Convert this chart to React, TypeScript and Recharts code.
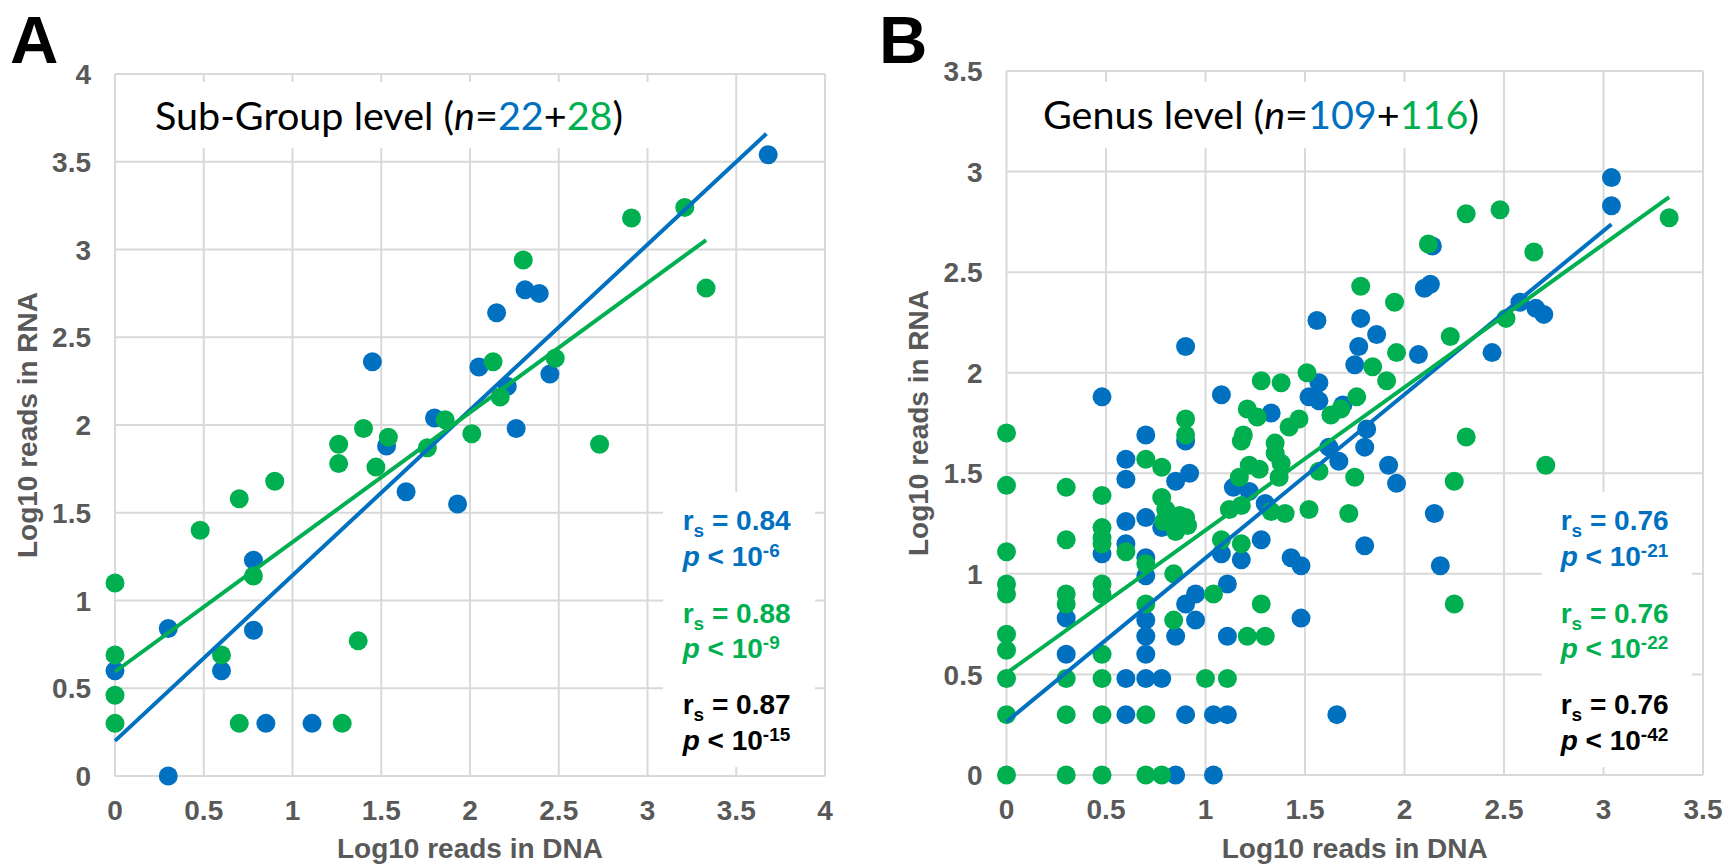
import React from 'react';
import { ScatterChart, Scatter, XAxis, YAxis, CartesianGrid } from 'recharts';

const BLUE = '#0070C0';
const GREEN = '#00B050';
const GRID = '#D9D9D9';
const AXIS_TEXT = '#595959';
const NUM_FONT = '"Liberation Sans", Arial, sans-serif';
const TITLE_FONT = 'Lato, "Open Sans", sans-serif';

// Tick values
const ticksA = [0, 0.5, 1, 1.5, 2, 2.5, 3, 3.5, 4];
const ticksB = [0, 0.5, 1, 1.5, 2, 2.5, 3, 3.5];

// Panel A: Sub-Group level, [log10 DNA reads, log10 RNA reads]
const subGroupBlue: [number, number][] = [
  [0, 0.6], [0.3, 0.84], [0.3, 0], [0.6, 0.6], [0.78, 1.23], [0.78, 0.83], [0.85, 0.3],
  [1.11, 0.3], [1.45, 2.36], [1.53, 1.88], [1.64, 1.62], [1.8, 2.04], [1.93, 1.55],
  [2.05, 2.33], [2.15, 2.64], [2.21, 2.22], [2.26, 1.98], [2.31, 2.77], [2.39, 2.75],
  [2.45, 2.29], [3.68, 3.54],
];
const subGroupGreen: [number, number][] = [
  [0, 1.1], [0, 0.69], [0, 0.46], [0, 0.3], [0.48, 1.4], [0.7, 1.58], [0.9, 1.68],
  [0.78, 1.14], [0.6, 0.69], [0.7, 0.3], [1.28, 0.3], [1.37, 0.77], [1.26, 1.89],
  [1.26, 1.78], [1.4, 1.98], [1.54, 1.93], [1.47, 1.76], [1.76, 1.87], [1.86, 2.03],
  [2.01, 1.95], [2.13, 2.36], [2.17, 2.16], [2.48, 2.38], [2.73, 1.89], [2.3, 2.94],
  [2.91, 3.18], [3.21, 3.24], [3.33, 2.78],
];

// Panel B: Genus level
const genusBlue: [number, number][] = [
  [0.3, 0.78], [0.3, 0.6], [0.48, 1.88], [0.48, 1.1],
  [0.6, 1.57], [0.6, 1.47], [0.6, 1.26], [0.6, 1.15], [0.6, 0.48], [0.6, 0.3],
  [0.7, 1.69], [0.7, 1.28], [0.7, 1.08], [0.7, 0.99], [0.7, 0.77], [0.7, 0.69], [0.7, 0.6], [0.7, 0.48],
  [0.78, 0.48], [0.78, 1.23], [0.85, 1.46], [0.85, 0.69], [0.85, 0],
  [0.9, 2.13], [0.9, 1.66], [0.92, 1.5], [0.9, 0.85], [0.9, 0.3], [0.95, 0.9], [0.95, 0.77],
  [1.04, 0.3], [1.04, 0], [1.08, 1.89], [1.08, 1.1], [1.11, 0.95], [1.11, 0.69], [1.11, 0.3],
  [1.14, 1.43], [1.18, 1.07], [1.22, 1.41], [1.28, 1.17], [1.3, 1.35], [1.33, 1.8],
  [1.43, 1.08], [1.48, 1.04], [1.48, 0.78], [1.52, 1.88], [1.57, 1.95], [1.57, 1.86], [1.56, 2.26],
  [1.62, 1.63], [1.67, 1.56], [1.66, 0.3], [1.69, 1.84],
  [1.75, 2.04], [1.77, 2.13], [1.78, 2.27], [1.8, 1.63], [1.81, 1.72], [1.8, 1.14], [1.86, 2.19],
  [1.92, 1.54], [1.96, 1.45], [2.07, 2.09], [2.1, 2.42], [2.13, 2.44], [2.14, 2.63],
  [2.15, 1.3], [2.18, 1.04], [2.44, 2.1], [2.58, 2.35], [2.66, 2.32], [2.7, 2.29],
  [3.04, 2.97], [3.04, 2.83],
];
const genusGreen: [number, number][] = [
  [0, 1.7], [0, 1.44], [0, 1.11], [0, 0.95], [0, 0.9], [0, 0.7], [0, 0.62], [0, 0.48], [0, 0.3], [0, 0],
  [0.3, 1.43], [0.3, 1.17], [0.3, 0.9], [0.3, 0.85], [0.3, 0.48], [0.3, 0.3], [0.3, 0],
  [0.48, 1.39], [0.48, 1.23], [0.48, 1.18], [0.48, 1.15], [0.48, 0.95], [0.48, 0.9], [0.48, 0.6],
  [0.48, 0.48], [0.48, 0.3], [0.48, 0],
  [0.6, 1.11], [0.7, 1.57], [0.7, 1.05], [0.7, 0.85], [0.7, 0.3], [0.7, 0],
  [0.78, 1.53], [0.78, 1.38], [0.78, 0],
  [0.8, 1.32], [0.87, 1.29], [0.79, 1.26], [0.85, 1.21], [0.91, 1.24], [0.9, 1.28],
  [0.84, 1.0], [0.84, 0.77], [0.9, 1.77], [0.9, 1.69], [1.0, 0.48], [1.11, 0.48], [1.04, 0.9],
  [1.08, 1.17], [1.12, 1.32], [1.18, 1.34], [1.18, 1.15],
  [1.19, 1.69], [1.18, 1.66], [1.21, 1.82], [1.26, 1.78], [1.22, 1.54], [1.27, 1.52], [1.17, 1.48],
  [1.28, 1.96], [1.38, 1.95], [1.51, 2.0],
  [1.33, 1.31], [1.4, 1.3], [1.52, 1.32], [1.72, 1.3],
  [1.35, 1.65], [1.35, 1.6], [1.38, 1.55], [1.37, 1.48], [1.42, 1.73], [1.47, 1.77],
  [1.57, 1.51], [1.63, 1.79], [1.68, 1.82], [1.76, 1.88], [1.75, 1.48],
  [1.28, 0.85], [1.21, 0.69], [1.3, 0.69],
  [1.84, 2.03], [1.91, 1.96], [1.78, 2.43], [1.95, 2.35], [1.96, 2.1],
  [2.12, 2.64], [2.23, 2.18], [2.31, 2.79], [2.48, 2.81], [2.65, 2.6], [2.51, 2.27], [3.33, 2.77],
  [2.31, 1.68], [2.71, 1.54], [2.25, 1.46], [2.25, 0.85],
];

// Regression line end points
const trendSubGroupBlue: [number, number][] = [[0, 0.2], [3.67, 3.66]];
const trendSubGroupGreen: [number, number][] = [[0, 0.594], [3.33, 3.054]];
const trendGenusBlue: [number, number][] = [[0, 0.265], [3.04, 2.738]];
const trendGenusGreen: [number, number][] = [[0, 0.506], [3.33, 2.873]];

const toPts = (arr: [number, number][]) => arr.map(([x, y]) => ({ x, y }));

const YTick = (props: any) => {
  const { x, y, payload } = props;
  return (
    <text x={x} y={y} dy="0.36em" textAnchor="end" fontFamily={NUM_FONT} fontWeight="bold" fontSize={28} fill={AXIS_TEXT}>
      {String(payload.value)}
    </text>
  );
};
const XTick = (props: any) => {
  const { x, y, payload } = props;
  return (
    <text x={x} y={y} dy="0.71em" textAnchor="middle" fontFamily={NUM_FONT} fontWeight="bold" fontSize={28} fill={AXIS_TEXT}>
      {String(payload.value)}
    </text>
  );
};

const dotShape = (color: string) => (props: any) => <circle cx={props.cx} cy={props.cy} r={9.5} fill={color} />;
const noShape = () => <g />;

function Panel(props: {
  width: number; top: number; right: number; yWidth: number; xHeight: number; max: number; ticks: number[];
  blue: [number, number][]; green: [number, number][]; tBlue: [number, number][]; tGreen: [number, number][];
}) {
  const { width, top, right, yWidth, xHeight, max, ticks, blue, green, tBlue, tGreen } = props;
  return (
    <ScatterChart width={width} height={865} margin={{ top, right, bottom: 0, left: 0 }}>
      <CartesianGrid stroke={GRID} strokeWidth={2} />
      <XAxis type="number" dataKey="x" domain={[0, max]} ticks={ticks} interval={0} axisLine={false}
        tickLine={false} tickSize={0} tickMargin={24} height={xHeight} tick={<XTick />} />
      <YAxis type="number" dataKey="y" domain={[0, max]} ticks={ticks} interval={0} axisLine={false}
        tickLine={false} tickSize={0} tickMargin={24} width={yWidth} tick={<YTick />} />
      <Scatter data={toPts(blue)} shape={dotShape(BLUE)} isAnimationActive={false} />
      <Scatter data={toPts(green)} shape={dotShape(GREEN)} isAnimationActive={false} />
      <Scatter data={toPts(tBlue)} shape={noShape} line={{ stroke: BLUE, strokeWidth: 4 }} isAnimationActive={false} />
      <Scatter data={toPts(tGreen)} shape={noShape} line={{ stroke: GREEN, strokeWidth: 4 }} isAnimationActive={false} />
    </ScatterChart>
  );
}

function Stats(props: { x: number; rows: { r: string; p: string; color: string; y: number }[] }) {
  return (
    <g fontFamily={NUM_FONT} fontWeight="bold" fontSize={28}>
      {props.rows.map((row, i) => (
        <g key={i} fill={row.color}>
          <text x={props.x} y={row.y}>
            <tspan>r</tspan>
            <tspan fontSize={19} dy={7}>s</tspan>
            <tspan dy={-7}>{' = ' + row.r}</tspan>
          </text>
          <text x={props.x} y={row.y + 35.5}>
            <tspan fontStyle="italic">p</tspan>
            <tspan>{' < 10'}</tspan>
            <tspan fontSize={19} dy={-9}>{row.p}</tspan>
          </text>
        </g>
      ))}
    </g>
  );
}

const statsA = [
  { r: '0.84', p: '-6', color: BLUE, y: 530 },
  { r: '0.88', p: '-9', color: GREEN, y: 622.5 },
  { r: '0.87', p: '-15', color: '#000', y: 714 },
];
const statsB = [
  { r: '0.76', p: '-21', color: BLUE, y: 530 },
  { r: '0.76', p: '-22', color: GREEN, y: 622.5 },
  { r: '0.76', p: '-42', color: '#000', y: 714 },
];

export default function App() {
  const axisTitle = { fontFamily: NUM_FONT, fontWeight: 'bold' as const, fontSize: 28, fill: AXIS_TEXT };
  return (
    <div style={{ position: 'absolute', left: 0, top: 0, width: 1726, height: 865, background: '#fff' }}>
      <div style={{ position: 'absolute', left: 0, top: 0 }}>
        <Panel width={860} top={74} right={35} yWidth={115} xHeight={89} max={4} ticks={ticksA}
          blue={subGroupBlue} green={subGroupGreen} tBlue={trendSubGroupBlue} tGreen={trendSubGroupGreen} />
      </div>
      <div style={{ position: 'absolute', left: 880, top: 0 }}>
        <Panel width={846} top={71} right={23} yWidth={126.5} xHeight={90} max={3.5} ticks={ticksB}
          blue={genusBlue} green={genusGreen} tBlue={trendGenusBlue} tGreen={trendGenusGreen} />
      </div>
      <svg width={1726} height={865} style={{ position: 'absolute', left: 0, top: 0, pointerEvents: 'none' }}>
        <text x={10} y={63} fontFamily={NUM_FONT} fontWeight="bold" fontSize={67} fill="#000">A</text>
        <text x={879} y={63} fontFamily={NUM_FONT} fontWeight="bold" fontSize={67} fill="#000">B</text>

        <rect x={120} y={82} width={570} height={66} fill="#fff" />
        <text x={155} y={130} fontFamily={TITLE_FONT} fontSize={39.5} fill="#000">
          <tspan>Sub-Group level (</tspan>
          <tspan fontStyle="italic">n</tspan>
          <tspan>=</tspan>
          <tspan fill={BLUE}>22</tspan>
          <tspan>+</tspan>
          <tspan fill={GREEN}>28</tspan>
          <tspan>)</tspan>
        </text>
        <rect x={1012} y={82} width={478} height={66} fill="#fff" />
        <text x={1043} y={129} fontFamily={TITLE_FONT} fontSize={39.5} fill="#000">
          <tspan>Genus level (</tspan>
          <tspan fontStyle="italic">n</tspan>
          <tspan>=</tspan>
          <tspan fill={BLUE}>109</tspan>
          <tspan>+</tspan>
          <tspan fill={GREEN}>116</tspan>
          <tspan>)</tspan>
        </text>

        <rect x={663} y={492} width={152} height={275} fill="#fff" />
        <Stats x={682.7} rows={statsA} />
        <rect x={1542} y={492} width={150} height={275} fill="#fff" />
        <Stats x={1560.7} rows={statsB} />

        <text x={470} y={858} textAnchor="middle" {...axisTitle}>Log10 reads in DNA</text>
        <text x={1354.75} y={858} textAnchor="middle" {...axisTitle}>Log10 reads in DNA</text>
        <text transform="translate(37,425) rotate(-90)" textAnchor="middle" {...axisTitle}>Log10 reads in RNA</text>
        <text transform="translate(928,423) rotate(-90)" textAnchor="middle" {...axisTitle}>Log10 reads in RNA</text>
      </svg>
    </div>
  );
}
